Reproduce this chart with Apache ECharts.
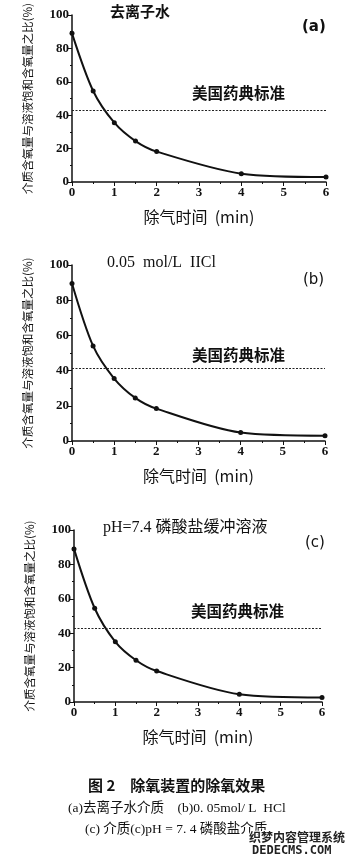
<!DOCTYPE html>
<html><head><meta charset="utf-8">
<script src="https://cdn.jsdelivr.net/npm/echarts@6/dist/echarts.min.js"></script>
<style>html,body{margin:0;padding:0;background:#fff}#c{width:359px;height:864px}</style>
</head><body><div id="c"></div>
<script>
const timeMin = [0, 0.5, 1, 1.5, 2, 4, 6];
const seriesA = [89, 54.5, 35.5, 24.5, 18.2, 5, 3];
const seriesB = [89.5, 54, 35.5, 24.5, 18.4, 4.8, 3];
const seriesC = [89, 54.5, 35, 24.3, 18, 4.5, 2.6];
const standardLines = [43, 41.5, 42.7];
const panelTitles = ['去离子水', '0.05  mol/L  IICl', 'pH=7.4 磷酸盐缓冲溶液'];
const panelTags = ['(a)', '(b)', '(c)'];
const standardLabel = '美国药典标准';
const xName = '除气时间  (min)';
const yName = '介质含氧量与溶液饱和含氧量之比(%)';
const captionLines = ['图 2　除氧装置的除氧效果', '(a)去离子水介质　(b)0. 05mol/ L  HCl', '(c) 介质(c)pH = 7. 4 磷酸盐介质'];

const serif = '"Liberation Serif","Noto Sans CJK SC",serif';
const cjk = '"Noto Sans CJK SC",sans-serif';
const grids = [
  {left: 72, width: 254, top: 15, height: 167},
  {left: 72, width: 253, top: 265, height: 176},
  {left: 74, width: 248, top: 530, height: 172}
];
const allData = [seriesA, seriesB, seriesC];

const xAxes = grids.map((g, i) => ({
  type: 'value', gridIndex: i, min: 0, max: 6, interval: 1,
  name: xName, nameLocation: 'middle', nameGap: 27,
  nameTextStyle: {fontFamily: cjk, fontSize: 16, color: '#111'},
  axisLine: {lineStyle: {color: '#111', width: 1.5}},
  axisTick: {length: 4, lineStyle: {color: '#111'}},
  minorTick: {show: true, splitNumber: 2, length: 2, lineStyle: {color: '#111'}},
  axisLabel: {fontFamily: serif, fontSize: 13, fontWeight: 'bold', color: '#111', margin: 4},
  splitLine: {show: false}
}));
const yAxes = grids.map((g, i) => ({
  type: 'value', gridIndex: i, min: 0, max: 100, interval: 20,
  name: yName, nameLocation: 'middle', nameGap: 39, nameRotate: 90,
  nameTextStyle: {fontFamily: cjk, fontSize: 11.5, color: '#111'},
  axisLine: {show: true, lineStyle: {color: '#111', width: 1.5}},
  axisTick: {show: true, length: 4, lineStyle: {color: '#111'}},
  minorTick: {show: true, splitNumber: 2, length: 2, lineStyle: {color: '#111'}},
  axisLabel: {fontFamily: serif, fontSize: 13, fontWeight: 'bold', color: '#111', margin: 3},
  splitLine: {show: false}
}));
const series = allData.map((d, i) => ({
  type: 'line', xAxisIndex: i, yAxisIndex: i,
  data: timeMin.map((t, k) => [t, d[k]]),
  smooth: 0.3, symbol: 'circle', symbolSize: 5,
  itemStyle: {color: '#111'}, lineStyle: {color: '#111', width: 2},
  markLine: {
    silent: true, symbol: 'none', label: {show: false},
    lineStyle: {color: '#222', type: [2, 1.5], width: 1.2},
    data: [{yAxis: standardLines[i]}]
  }
}));

const graphic = [];
const titlePos = [[110, 14], [107, 265], [103, 530]];
const tagPos = [[302, 29], [303, 282], [305, 545]];
const stdPos = [[192, 94], [192, 356], [191, 612]];
const titleFonts = ['bold 15px ' + cjk, '16px ' + serif, '16px ' + serif];
for (let i = 0; i < 3; i++) {
  graphic.push({type: 'text', left: titlePos[i][0], top: titlePos[i][1] - 10,
    style: {text: panelTitles[i], font: titleFonts[i], fill: '#111'}});
  graphic.push({type: 'text', left: tagPos[i][0], top: tagPos[i][1] - 9,
    style: {text: panelTags[i], font: (i === 0 ? 'bold ' : '') + '15px "DejaVu Sans",sans-serif', fill: '#111'}});
  graphic.push({type: 'text', left: stdPos[i][0], top: stdPos[i][1] - 9,
    style: {text: standardLabel, font: 'bold 15.5px ' + cjk, fill: '#111'}});
}
graphic.push({type: 'text', left: 88, top: 778, style: {text: captionLines[0], font: 'bold 15px ' + cjk, fill: '#111'}});
graphic.push({type: 'text', left: 68, top: 802, style: {text: captionLines[1], font: '13.5px ' + serif, fill: '#111'}});
graphic.push({type: 'text', left: 85, top: 823, style: {text: captionLines[2], font: '13.5px ' + serif, fill: '#111'}});
graphic.push({type: 'text', left: 248, top: 830, style: {text: '织梦内容管理系统', font: 'bold 12px ' + cjk, fill: '#222', stroke: '#fff', lineWidth: 2}});
graphic.push({type: 'text', left: 251, top: 844, style: {text: 'DEDECMS.COM', font: 'bold 12px "DejaVu Sans Mono",monospace', fill: '#222', stroke: '#fff', lineWidth: 2}});

const chart = echarts.init(document.getElementById('c'), null, {renderer: 'canvas'});
chart.setOption({
  animation: false,
  backgroundColor: '#fff',
  grid: grids,
  xAxis: xAxes,
  yAxis: yAxes,
  series: series,
  graphic: graphic
});
</script></body></html>
